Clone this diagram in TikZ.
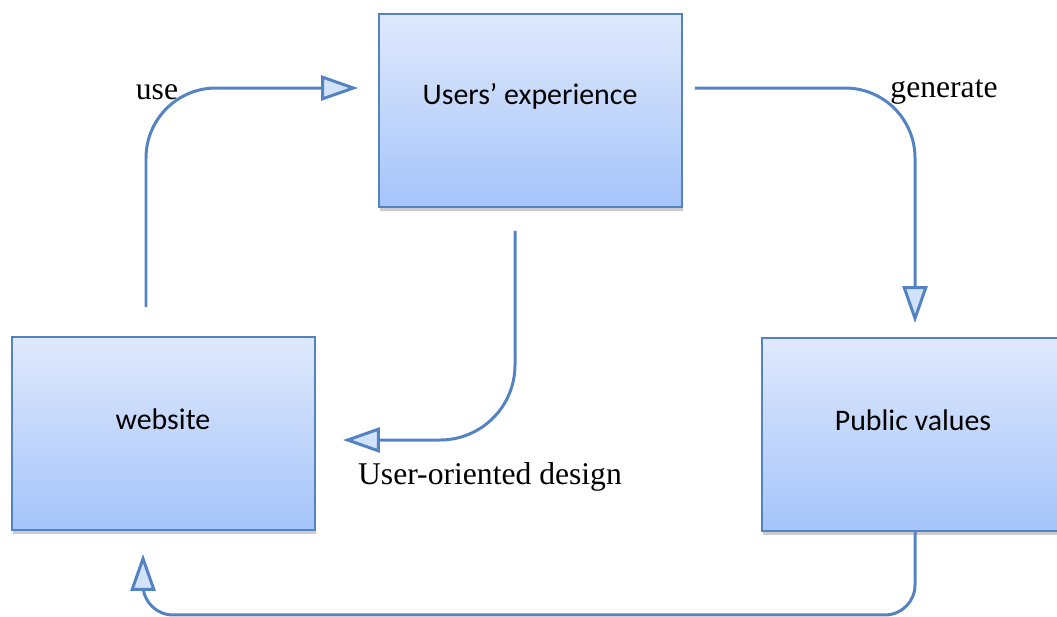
\documentclass[tikz,border=0pt]{standalone}
\usepackage{fontspec}
\setmainfont{Liberation Serif}
\newfontfamily\boxfont{Carlito}
\usetikzlibrary{arrows.meta,shadows}
\definecolor{boxline}{HTML}{5383C3}
\definecolor{boxtop}{HTML}{DFE9FC}
\definecolor{boxbot}{HTML}{A5C4FA}
\definecolor{tipfill}{HTML}{D3E2FB}
\begin{document}
\begin{tikzpicture}[x=0.02cm,y=-0.02cm,
    box/.style={draw=boxline,line width=1.1pt,top color=boxtop,bottom color=boxbot,
        minimum width=6.06cm,minimum height=3.86cm,inner sep=0pt,
        drop shadow={shadow xshift=0.02cm,shadow yshift=-0.09cm,opacity=0.4}},
    boxtext/.style={font=\boxfont\fontsize{17}{20}\selectfont},
    lbl/.style={font=\fontsize{18}{21}\selectfont},
    flow/.style={draw=boxline,line width=1.7pt,
        -{Triangle[length=0.74cm,width=0.5cm,fill=tipfill]}}]
    \useasboundingbox (0,0) rectangle (1057,616);

    \node[box] (ux) at (530.5,110.5) {};
    \node[box] (web) at (163.5,433.5) {};
    \node[box] (pub) at (913,434.5) {};

    \node[boxtext] (uxt) at (530,96) {Users’ experience};
    \node[boxtext] (webt) at (163,419) {website};
    \node[boxtext] (pubt) at (913,420) {Public values};

    \draw[flow,rounded corners=1.4cm,shorten >=0.4cm]
        ([xshift=-0.35cm,yshift=0.58cm]web.north) |- ([yshift=0.45cm]ux.west);
    \draw[flow,rounded corners=1.4cm,shorten >=0.28cm]
        ([xshift=0.24cm,yshift=0.45cm]ux.east) -| ([xshift=0.04cm]pub.north);
    \draw[flow,rounded corners=1.5cm,shorten >=0.54cm]
        ([xshift=-0.31cm,yshift=-0.46cm]ux.south) |- ([yshift=-0.13cm]web.east);
    \draw[flow,rounded corners=0.6cm,shorten >=0.46cm]
        ([xshift=0.04cm]pub.south) -- ++(0,83) -| ([xshift=-0.41cm]web.south);

    \node[lbl] (use) at (157,92) {use};
    \node[lbl] (gen) at (944,92) {generate};
    \node[lbl] (des) at (490,477) {User-oriented design};
\end{tikzpicture}
\end{document}
